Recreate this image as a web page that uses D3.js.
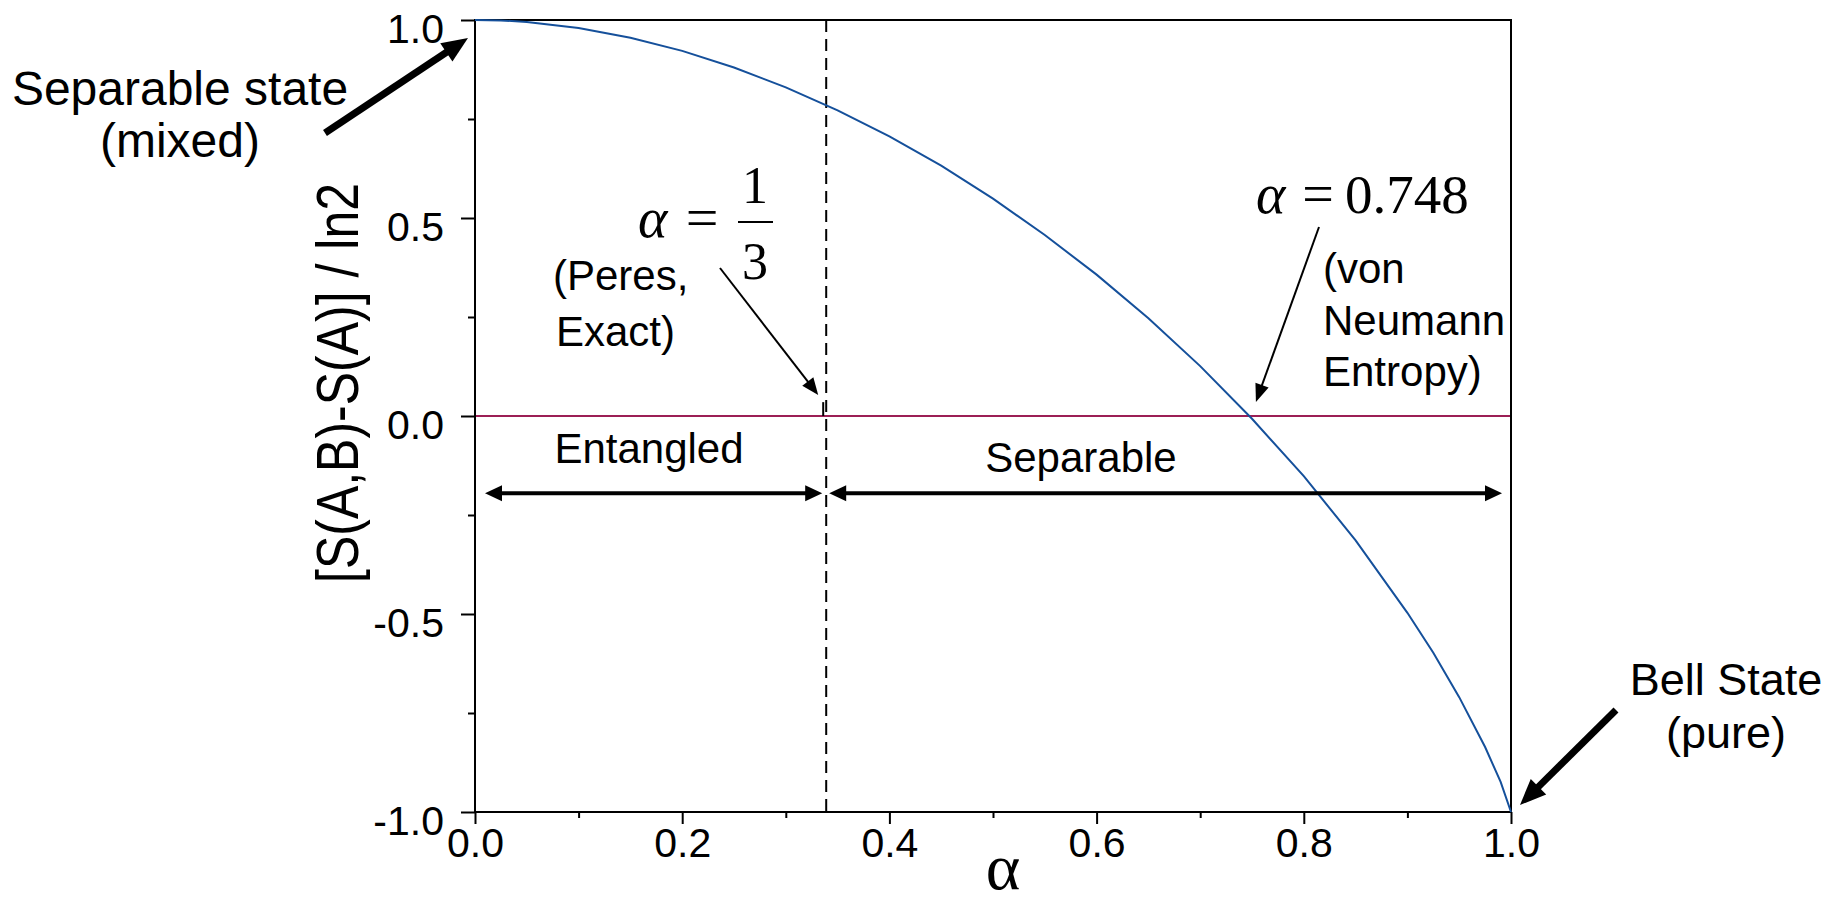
<!DOCTYPE html>
<html>
<head>
<meta charset="utf-8">
<script src="https://cdn.jsdelivr.net/npm/d3@7"></script>
<style>
  body { margin: 0; background: #fff; }
  text { font-family: "Liberation Sans", Arial, sans-serif; fill: #000; }
  .serif { font-family: "Liberation Serif", "Times New Roman", serif; }
</style>
</head>
<body>
<script>
// alpha values
var alphaVals = [0, 0.025, 0.05, 0.1, 0.15, 0.2, 0.25, 0.3, 0.35, 0.4, 0.45, 0.5, 0.55,
  0.6, 0.65, 0.7, 0.75, 0.8, 0.85, 0.9, 0.925, 0.95, 0.975, 0.99, 1.0];
// [S(A,B)-S(A)] / ln2
var entropyVals = [1.0, 0.999, 0.995, 0.980, 0.955, 0.922, 0.880, 0.830, 0.772, 0.706, 0.632,
  0.549, 0.457, 0.357, 0.247, 0.126, -0.007, -0.152, -0.314, -0.497, -0.598, -0.710, -0.836, -0.924, -1.0];

var xTicks = [0, 0.2, 0.4, 0.6, 0.8, 1.0];
var xMinorTicks = [0.1, 0.3, 0.5, 0.7, 0.9];
var yTicks = [-1.0, -0.5, 0.0, 0.5, 1.0];
var yMinorTicks = [-0.75, -0.25, 0.25, 0.75];

var peresAlpha = 0.339;     // dashed line (alpha = 1/3)
var vonNeumannAlpha = 0.748;

var width = 1847, height = 904;
var svg = d3.select('body').append('svg')
  .attr('width', width)
  .attr('height', height);

var x = d3.scaleLinear().domain([0, 1]).range([475, 1511]);
var y = d3.scaleLinear().domain([-1, 1]).range([812, 20]);

// arrow: line plus a filled triangle head at (x2, y2)
var arrow = function(g, x1, y1, x2, y2, lw, headLen, headHalf) {
  var dx = x2 - x1, dy = y2 - y1;
  var len = Math.sqrt(dx * dx + dy * dy);
  var ux = dx / len, uy = dy / len;
  var bx = x2 - ux * headLen, by = y2 - uy * headLen;
  g.append('line')
    .attr('x1', x1).attr('y1', y1)
    .attr('x2', bx + ux * 2).attr('y2', by + uy * 2)
    .style('stroke', '#000')
    .style('stroke-width', lw);
  g.append('path')
    .attr('d', 'M' + x2 + ',' + y2 +
      'L' + (bx - uy * headHalf) + ',' + (by + ux * headHalf) +
      'L' + (bx + uy * headHalf) + ',' + (by - ux * headHalf) + 'Z')
    .style('fill', '#000');
};

var doubleArrow = function(g, x1, x2, yy) {
  var headLen = 17, headHalf = 8;
  g.append('line')
    .attr('x1', x1 + headLen - 2).attr('y1', yy)
    .attr('x2', x2 - headLen + 2).attr('y2', yy)
    .style('stroke', '#000')
    .style('stroke-width', 4);
  g.append('path')
    .attr('d', 'M' + x1 + ',' + yy + 'L' + (x1 + headLen) + ',' + (yy - headHalf) + 'L' + (x1 + headLen) + ',' + (yy + headHalf) + 'Z')
    .style('fill', '#000');
  g.append('path')
    .attr('d', 'M' + x2 + ',' + yy + 'L' + (x2 - headLen) + ',' + (yy - headHalf) + 'L' + (x2 - headLen) + ',' + (yy + headHalf) + 'Z')
    .style('fill', '#000');
};

/*
  axes
*/
var xAxis = d3.axisBottom(x).tickValues(xTicks).tickSize(12).tickFormat(d3.format('.1f'));
var gx = svg.append('g').attr('transform', 'translate(0,' + y(-1) + ')').call(xAxis);
gx.select('.domain').remove();
gx.selectAll('.tick line').style('stroke', '#000').style('stroke-width', 2);
gx.selectAll('.tick text')
  .attr('y', 45).attr('dy', null)
  .style('font-size', '41px')
  .style('font-family', '"Liberation Sans", Arial, sans-serif');

var gxm = svg.append('g').attr('transform', 'translate(0,' + y(-1) + ')')
  .call(d3.axisBottom(x).tickValues(xMinorTicks).tickSize(6).tickFormat(''));
gxm.select('.domain').remove();
gxm.selectAll('.tick line').style('stroke', '#000').style('stroke-width', 2);

var yAxis = d3.axisLeft(y).tickValues(yTicks).tickSize(14).tickFormat(d3.format('.1f'));
var gy = svg.append('g').attr('transform', 'translate(' + x(0) + ',0)').call(yAxis);
gy.select('.domain').remove();
gy.selectAll('.tick line').style('stroke', '#000').style('stroke-width', 2);
gy.selectAll('.tick text')
  .attr('x', -31).attr('dy', '22px')
  .text(function(d) { return d3.format('.1f')(d).replace('\u2212', '-'); })
  .style('font-size', '41px')
  .style('font-family', '"Liberation Sans", Arial, sans-serif');

var gym = svg.append('g').attr('transform', 'translate(' + x(0) + ',0)')
  .call(d3.axisLeft(y).tickValues(yMinorTicks).tickSize(7).tickFormat(''));
gym.select('.domain').remove();
gym.selectAll('.tick line').style('stroke', '#000').style('stroke-width', 2);

// zero line
svg.append('line')
  .attr('x1', x(0)).attr('y1', y(0))
  .attr('x2', x(1)).attr('y2', y(0))
  .style('stroke', '#9c1f55')
  .style('stroke-width', 2);

// dashed line at alpha = 1/3
svg.append('line')
  .attr('x1', x(peresAlpha)).attr('y1', y(1))
  .attr('x2', x(peresAlpha)).attr('y2', y(-1))
  .style('stroke', '#000')
  .style('stroke-width', 2)
  .style('stroke-dasharray', '12, 7');
// little solid stub where the dashed line meets zero
svg.append('line')
  .attr('x1', x(peresAlpha) - 3).attr('y1', y(0.035))
  .attr('x2', x(peresAlpha) - 3).attr('y2', y(0))
  .style('stroke', '#000')
  .style('stroke-width', 2);

// frame
svg.append('rect')
  .attr('x', x(0)).attr('y', y(1))
  .attr('width', x(1) - x(0)).attr('height', y(-1) - y(1))
  .style('fill', 'none')
  .style('stroke', '#000')
  .style('stroke-width', 2);

// curve
var line = d3.line()
  .x(function(d, i) { return x(alphaVals[i]); })
  .y(function(d) { return y(d); });
svg.append('path')
  .datum(entropyVals)
  .attr('d', line)
  .style('fill', 'none')
  .style('stroke', '#15509b')
  .style('stroke-width', 2);

/*
  axis labels
*/
svg.append('text')
  .attr('transform', 'translate(358,383) rotate(-90)')
  .attr('text-anchor', 'middle')
  .attr('textLength', 400)
  .attr('lengthAdjust', 'spacingAndGlyphs')
  .style('font-size', '60px')
  .text('[S(A,B)-S(A)] / ln2');

svg.append('text')
  .attr('class', 'serif')
  .attr('x', 1003).attr('y', 889)
  .attr('text-anchor', 'middle')
  .style('font-size', '66px')
  .text('\u03b1');

/*
  annotations
*/
var ann = svg.append('g');

// separable state (mixed)
ann.append('text').attr('x', 180).attr('y', 105).attr('text-anchor', 'middle')
  .style('font-size', '48px').text('Separable state');
ann.append('text').attr('x', 180).attr('y', 157).attr('text-anchor', 'middle')
  .style('font-size', '48px').text('(mixed)');
arrow(ann, 325, 133, x(0) - 7, y(1) + 18, 7, 26, 11);

// bell state (pure)
ann.append('text').attr('x', 1726).attr('y', 695).attr('text-anchor', 'middle')
  .style('font-size', '45px').text('Bell State');
ann.append('text').attr('x', 1726).attr('y', 748).attr('text-anchor', 'middle')
  .style('font-size', '45px').text('(pure)');
arrow(ann, 1616, 710, x(1) + 9, y(-1) - 7, 7, 26, 11);

// alpha = 1/3
ann.append('text').attr('class', 'serif').attr('x', 638).attr('y', 237)
  .style('font-size', '56px').style('font-style', 'italic').text('\u03b1');
ann.append('text').attr('class', 'serif').attr('x', 702).attr('y', 237)
  .attr('text-anchor', 'middle').style('font-size', '58px').text('=');
ann.append('text').attr('class', 'serif').attr('x', 755).attr('y', 203)
  .attr('text-anchor', 'middle').style('font-size', '52px').text('1');
ann.append('line').attr('x1', 738).attr('y1', 222).attr('x2', 773).attr('y2', 222)
  .style('stroke', '#000').style('stroke-width', 2);
ann.append('text').attr('class', 'serif').attr('x', 755).attr('y', 279)
  .attr('text-anchor', 'middle').style('font-size', '52px').text('3');
ann.append('text').attr('x', 553).attr('y', 290)
  .style('font-size', '42px').text('(Peres,');
ann.append('text').attr('x', 556).attr('y', 346)
  .style('font-size', '42px').text('Exact)');
arrow(ann, 720, 268, x(peresAlpha) - 8, y(0) - 21, 2, 17, 7);

// alpha = 0.748
ann.append('text').attr('class', 'serif').attr('x', 1256).attr('y', 213)
  .style('font-size', '56px').style('font-style', 'italic').text('\u03b1');
ann.append('text').attr('class', 'serif').attr('x', 1318).attr('y', 213)
  .attr('text-anchor', 'middle').style('font-size', '56px').text('=');
ann.append('text').attr('class', 'serif').attr('x', 1345).attr('y', 213)
  .style('font-size', '55px').text('0.748');
ann.append('text').attr('x', 1323).attr('y', 283).style('font-size', '42px').text('(von');
ann.append('text').attr('x', 1323).attr('y', 335).style('font-size', '42px').text('Neumann');
ann.append('text').attr('x', 1323).attr('y', 386).style('font-size', '42px').text('Entropy)');
arrow(ann, 1319, 227, x(vonNeumannAlpha) + 6, y(0) - 14, 2, 18, 7);

// entangled / separable regions
var regionY = y(-0.195);
ann.append('text').attr('x', 649).attr('y', 463).attr('text-anchor', 'middle')
  .style('font-size', '42px').text('Entangled');
ann.append('text').attr('x', 1081).attr('y', 472).attr('text-anchor', 'middle')
  .style('font-size', '42px').text('Separable');
doubleArrow(ann, x(0) + 10, x(peresAlpha) - 4, regionY);
doubleArrow(ann, x(peresAlpha) + 3, x(1) - 9, regionY);
</script>
</body>
</html>
